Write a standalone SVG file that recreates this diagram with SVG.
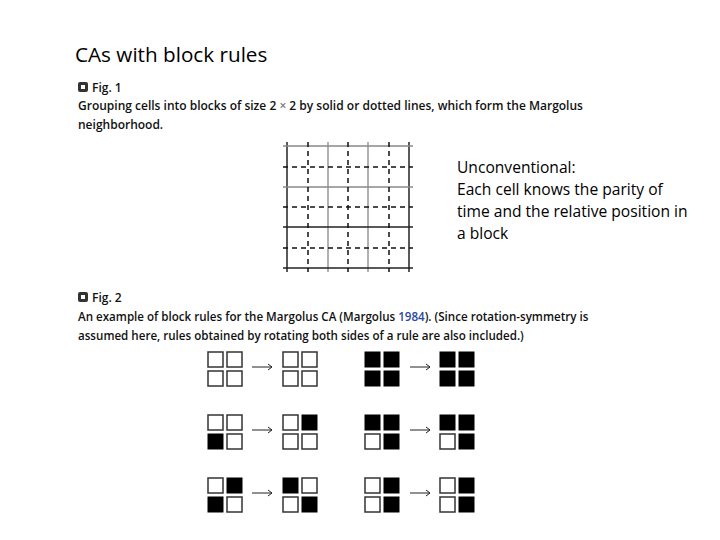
<svg xmlns="http://www.w3.org/2000/svg" width="720" height="540" viewBox="0 0 720 540">
<style>
.t{font-family:"Open Sans","Liberation Sans",sans-serif;fill:#000}
.cap{font-family:"Open Sans","Liberation Sans",sans-serif;font-size:12px;font-weight:600;fill:#111}
.cap2{font-family:"Open Sans","Liberation Sans",sans-serif;font-size:11.6px;font-weight:600;fill:#111}
.w{fill:#fff;stroke:#333;stroke-width:1.5}
.b{fill:#000;stroke:#000;stroke-width:1}
.sol{stroke:#222;stroke-width:1.5;fill:none}
.gry{stroke:#888;stroke-width:1.3;fill:none}
.dsh{stroke:#111;stroke-width:1.5;stroke-dasharray:5 4;fill:none}
.arr{stroke:#222;stroke-width:1;fill:none}
</style>
<defs>
<g id="icon"><rect x="0" y="0" width="10" height="10" rx="2" fill="#333"/><rect x="3" y="3" width="4" height="4" fill="#fff"/></g>
<g id="ar"><line x1="0" y1="0" x2="20" y2="0" class="arr"/><path d="M16,-3 L20,0 L16,3" class="arr"/></g>
</defs>
<rect width="720" height="540" fill="#fff"/>
<text class="t" x="75" y="62" font-size="20.7">CAs with block rules</text>

<g id="fig1-caption">
<use href="#icon" x="78" y="82"/>
<text class="cap" x="92" y="92">Fig. 1</text>
<text class="cap" x="78" y="110">Grouping cells into blocks of size 2 <tspan fill="#777">×</tspan> 2 by solid or dotted lines, which form the Margolus</text>
<text class="cap" x="78" y="129">neighborhood.</text>
</g>

<g id="grid">
<line class="sol" x1="287" y1="142" x2="287" y2="272"/>
<line class="gry" x1="328" y1="142" x2="328" y2="272"/>
<line class="gry" x1="368" y1="142" x2="368" y2="272"/>
<line class="sol" x1="409" y1="142" x2="409" y2="272"/>
<line class="gry" x1="283" y1="146" x2="413" y2="146"/>
<line class="gry" x1="283" y1="187" x2="413" y2="187"/>
<line class="sol" x1="283" y1="227" x2="413" y2="227"/>
<line class="sol" x1="283" y1="268" x2="413" y2="268"/>
<line class="dsh" x1="308" y1="142" x2="308" y2="272"/>
<line class="dsh" x1="348" y1="142" x2="348" y2="272"/>
<line class="dsh" x1="389" y1="142" x2="389" y2="272"/>
<line class="dsh" x1="283" y1="167" x2="413" y2="167"/>
<line class="dsh" x1="283" y1="207" x2="413" y2="207"/>
<line class="dsh" x1="283" y1="248" x2="413" y2="248" stroke="#666" stroke-width="1"/>
</g>

<g id="note">
<text class="t" font-size="15.6"><tspan x="457" y="173">Unconventional:</tspan><tspan x="457" y="195">Each cell knows the parity of</tspan><tspan x="457" y="217">time and the relative position in</tspan><tspan x="457" y="239">a block</tspan></text>
</g>

<g id="fig2-caption">
<use href="#icon" x="78" y="292"/>
<text class="cap" x="92" y="302">Fig. 2</text>
<text class="cap2" x="78" y="321">An example of block rules for the Margolus CA (Margolus <tspan fill="#2b4aa0">1984</tspan>). (Since rotation-symmetry is</text>
<text class="cap2" x="78" y="340">assumed here, rules obtained by rotating both sides of a rule are also included.)</text>
</g>

<g id="connectors">
<use href="#ar" x="252" y="367"/>
<use href="#ar" x="410" y="367"/>
<use href="#ar" x="252" y="430"/>
<use href="#ar" x="410" y="430"/>
<use href="#ar" x="252" y="493"/>
<use href="#ar" x="410" y="493"/>
</g>

<!-- row 1 -->
<g id="r1a"><rect class="w" x="208" y="352" width="15" height="15"/><rect class="w" x="227" y="352" width="15" height="15"/><rect class="w" x="208" y="371" width="15" height="15"/><rect class="w" x="227" y="371" width="15" height="15"/></g>
<g id="r1b"><rect class="w" x="283" y="352" width="15" height="15"/><rect class="w" x="302" y="352" width="15" height="15"/><rect class="w" x="283" y="371" width="15" height="15"/><rect class="w" x="302" y="371" width="15" height="15"/></g>
<g id="r1c"><rect class="b" x="365" y="352" width="15" height="15"/><rect class="b" x="384" y="352" width="15" height="15"/><rect class="b" x="365" y="371" width="15" height="15"/><rect class="b" x="384" y="371" width="15" height="15"/></g>
<g id="r1d"><rect class="b" x="440" y="352" width="15" height="15"/><rect class="b" x="459" y="352" width="15" height="15"/><rect class="b" x="440" y="371" width="15" height="15"/><rect class="b" x="459" y="371" width="15" height="15"/></g>

<!-- row 2 -->
<g id="r2a"><rect class="w" x="208" y="415" width="15" height="15"/><rect class="w" x="227" y="415" width="15" height="15"/><rect class="b" x="208" y="434" width="15" height="15"/><rect class="w" x="227" y="434" width="15" height="15"/></g>
<g id="r2b"><rect class="w" x="283" y="415" width="15" height="15"/><rect class="b" x="302" y="415" width="15" height="15"/><rect class="w" x="283" y="434" width="15" height="15"/><rect class="w" x="302" y="434" width="15" height="15"/></g>
<g id="r2c"><rect class="b" x="365" y="415" width="15" height="15"/><rect class="b" x="384" y="415" width="15" height="15"/><rect class="w" x="365" y="434" width="15" height="15"/><rect class="b" x="384" y="434" width="15" height="15"/></g>
<g id="r2d"><rect class="b" x="440" y="415" width="15" height="15"/><rect class="b" x="459" y="415" width="15" height="15"/><rect class="w" x="440" y="434" width="15" height="15"/><rect class="b" x="459" y="434" width="15" height="15"/></g>

<!-- row 3 -->
<g id="r3a"><rect class="w" x="208" y="478" width="15" height="15"/><rect class="b" x="227" y="478" width="15" height="15"/><rect class="b" x="208" y="497" width="15" height="15"/><rect class="w" x="227" y="497" width="15" height="15"/></g>
<g id="r3b"><rect class="b" x="283" y="478" width="15" height="15"/><rect class="w" x="302" y="478" width="15" height="15"/><rect class="w" x="283" y="497" width="15" height="15"/><rect class="b" x="302" y="497" width="15" height="15"/></g>
<g id="r3c"><rect class="w" x="365" y="478" width="15" height="15"/><rect class="b" x="384" y="478" width="15" height="15"/><rect class="w" x="365" y="497" width="15" height="15"/><rect class="b" x="384" y="497" width="15" height="15"/></g>
<g id="r3d"><rect class="w" x="440" y="478" width="15" height="15"/><rect class="b" x="459" y="478" width="15" height="15"/><rect class="w" x="440" y="497" width="15" height="15"/><rect class="b" x="459" y="497" width="15" height="15"/></g>
</svg>
